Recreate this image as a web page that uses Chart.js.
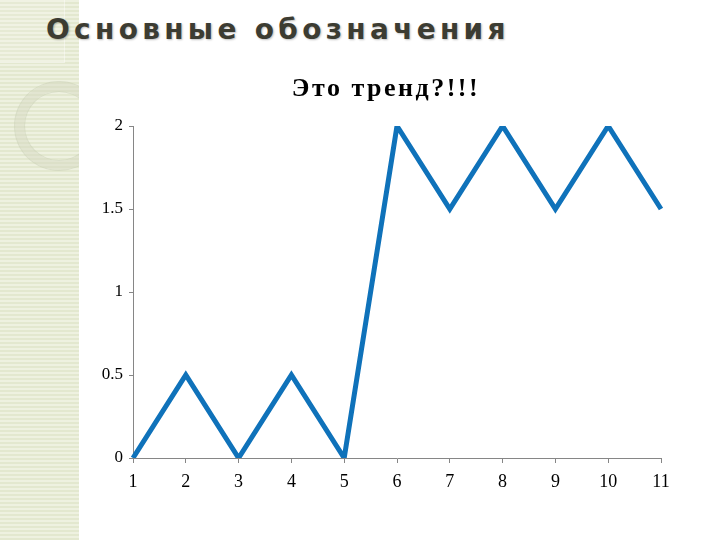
<!DOCTYPE html>
<html>
<head>
<meta charset="utf-8">
<script src="https://cdn.jsdelivr.net/npm/chart.js@4"></script>
<style>
  html, body { margin: 0; padding: 0; background: #fff; }
  #page { position: relative; width: 720px; height: 540px; overflow: hidden; }
  #strip {
    position: absolute; left: 0; top: 0; width: 79px; height: 540px; overflow: hidden;
    background-color: #e8ecd6;
    background-image: repeating-linear-gradient(180deg, #eef1e0 0px, #eef1e0 2px, #e3e8cf 2px, #e3e8cf 4px);
  }
  #box {
    position: absolute; left: 0; top: 0; width: 64px; height: 62px;
    border-right: 1px solid rgba(255,255,255,0.4); border-bottom: 1px solid rgba(255,255,255,0.4);
    background: rgba(255,255,255,0.12);
  }
  #ring {
    position: absolute; left: 15px; top: 82px; width: 70px; height: 70px;
    border-radius: 50%; border: 9px solid rgba(210,216,190,0.45);
    box-shadow: 0 0 0 1px rgba(200,205,180,0.5), inset 0 0 0 1px rgba(200,205,180,0.5);
  }
  #head {
    position: absolute; left: 46px; top: 13px; margin: 0;
    font: bold 28px "DejaVu Sans", Verdana, sans-serif; letter-spacing: 4.3px;
    color: #3c3c32; text-shadow: 1px 1px 2px rgba(0,0,0,0.25);
  }
  #ctitle {
    position: absolute; left: 280px; top: 73px; width: 212px; text-align: center;
    font: bold 26px "Liberation Serif", "Times New Roman", serif; letter-spacing: 2.5px;
    color: #000;
  }
  canvas { position: absolute; left: 0; top: 0; }
</style>
</head>
<body>
<div id="page">
  <div id="strip"><div id="box"></div><div id="ring"></div></div>
  <h1 id="head">Основные обозначения</h1>
  <canvas id="chart" width="720" height="540"></canvas>
  <div id="ctitle">Это тренд?!!!</div>
</div>
<script>
const labels = ["1", "2", "3", "4", "5", "6", "7", "8", "9", "10", "11"];
const values = [0, 0.5, 0, 0.5, 0, 2, 1.5, 2, 1.5, 2, 1.5];
const yTicks = [0, 0.5, 1, 1.5, 2];

const axisColor = "#868686";
const serif = "'Liberation Serif', 'Times New Roman', serif";

new Chart(document.getElementById("chart"), {
  type: "line",
  data: {
    labels: labels,
    datasets: [{
      data: values,
      borderColor: "#0f72ba",
      borderWidth: 5,
      pointRadius: 0,
      tension: 0,
      borderJoinStyle: "miter"
    }]
  },
  options: {
    responsive: false,
    animation: false,
    layout: { padding: { left: 83, right: 59, top: 126, bottom: 42 } },
    plugins: {
      legend: { display: false },
      tooltip: { enabled: false }
    },
    scales: {
      x: {
        offset: false,
        grid: { drawOnChartArea: false, tickLength: 5, color: axisColor },
        border: { color: axisColor },
        ticks: {
          color: "#000",
          padding: 8,
          maxRotation: 0,
          font: { family: serif, size: 18 }
        },
        afterFit(s) { s.height = 40; }
      },
      y: {
        min: 0,
        max: 2,
        afterBuildTicks(s) { s.ticks = yTicks.map(v => ({ value: v })); },
        grid: { drawOnChartArea: false, tickLength: 4, color: axisColor },
        border: { color: axisColor },
        ticks: {
          color: "#000",
          padding: 6,
          callback: v => String(v),
          font: { family: serif, size: 17 }
        },
        afterFit(s) { s.width = 50; }
      }
    }
  }
});
</script>
</body>
</html>
